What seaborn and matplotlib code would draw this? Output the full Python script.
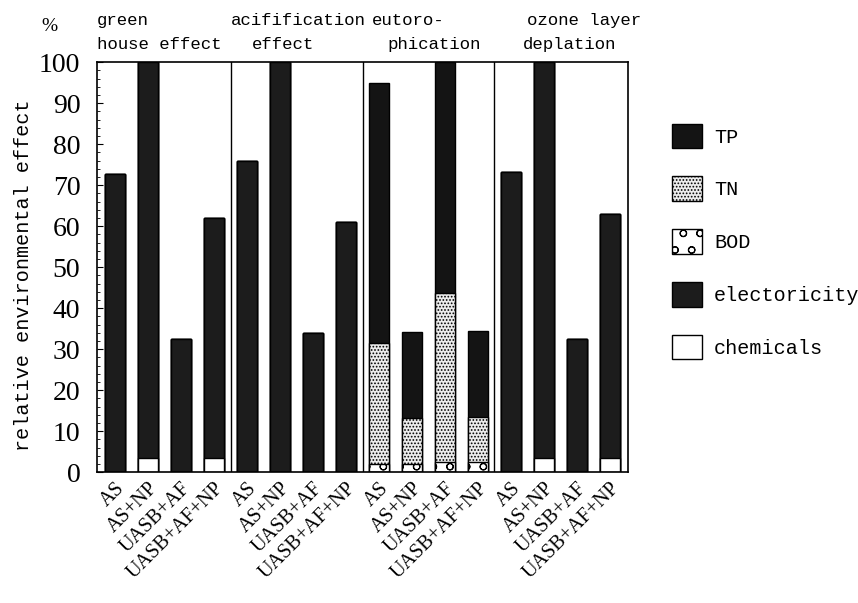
import numpy as np
import pandas as pd
import seaborn as sns
import matplotlib.pyplot as plt
from matplotlib.patches import Patch
from matplotlib.ticker import MultipleLocator

# data (% relative environmental effect)
processes = ['AS', 'AS+NP', 'UASB+AF', 'UASB+AF+NP']
chemicals = [0, 3.5, 0, 3.5, 0, 0, 0, 0, 0, 0, 0, 0, 0, 3.5, 0, 3.5]
electricity = [72.8, 96.5, 32.4, 58.5, 76, 100, 34, 61.1, 0, 0, 0, 0, 73.3, 96.5, 32.4, 59.5]
bod = [0, 0, 0, 0, 0, 0, 0, 0, 2, 2, 2.5, 2.5, 0, 0, 0, 0]
tn = [0, 0, 0, 0, 0, 0, 0, 0, 29.5, 11.2, 41.2, 11, 0, 0, 0, 0]
tp = [0, 0, 0, 0, 0, 0, 0, 0, 63.4, 20.9, 56.3, 20.9, 0, 0, 0, 0]

# group titles: (text, x position in bar units, line)
titles = [('green', -0.55, 0), ('house effect', -0.55, 1),
          ('acifification', 3.5, 0), ('effect', 4.15, 1),
          ('eutoro-', 7.78, 0), ('phication', 8.27, 1),
          ('ozone layer', 12.48, 0), ('deplation', 12.36, 1)]

layers = ['chemicals', 'electoricity', 'BOD', 'TN', 'TP']
df = pd.DataFrame({'chemicals': chemicals, 'electoricity': electricity,
                   'BOD': bod, 'TN': tn, 'TP': tp})
df['bar'] = range(len(df))
cum = df[layers].cumsum(axis=1)

styles = {
    'TP': dict(color='#141414', hatch=None),
    'TN': dict(color='#ececec', hatch='.....'),
    'BOD': dict(color='white', hatch='o'),
    'electoricity': dict(color='#1c1c1c', hatch=None),
    'chemicals': dict(color='white', hatch=None),
}

plt.rcParams['font.family'] = ['Liberation Serif', 'DejaVu Serif']
plt.rcParams['hatch.linewidth'] = 0.8
mono = 'Liberation Mono'

fig = plt.figure(figsize=(8.58, 6.03), dpi=100)
ax = fig.add_axes([0.113, 0.217, 0.619, 0.680])

# stacked bars: draw cumulative tops from the top layer down
for name in reversed(layers):
    st = styles[name]
    sns.barplot(x=df['bar'], y=cum[name], ax=ax, width=0.6, color=st['color'],
                edgecolor='black', linewidth=1, hatch=st['hatch'], saturation=1)

for xs in [3.5, 7.5, 11.5]:
    ax.axvline(xs, color='black', lw=1)

ax.set_xlim(-0.55, 15.55)
ax.set_ylim(0, 100)
ax.yaxis.set_major_locator(MultipleLocator(10))
ax.yaxis.set_minor_locator(MultipleLocator(2))
ax.tick_params(axis='y', which='major', direction='in', length=4, labelsize=20, pad=12)
ax.tick_params(axis='y', which='minor', direction='in', length=2)
ax.tick_params(axis='x', length=0, pad=5)
ax.set_xticks(range(16))
ax.set_xticklabels(processes * 4, rotation=45, ha='right', rotation_mode='anchor',
                   fontsize=14.5)
ax.set_xlabel('')
ax.set_ylabel('relative environmental effect', fontsize=14.5, family=mono, labelpad=6)
ax.yaxis.set_label_coords(-0.12, 0.48)
for s in ax.spines.values():
    s.set_linewidth(1.2)

# group titles above the plot
for txt, xp, line in titles:
    ax.text(xp, 108.3 - 5.8 * line, txt, fontsize=12.5, family=mono,
            va='bottom', ha='left')
ax.text(-0.105, 1.065, '%', transform=ax.transAxes, fontsize=14, va='bottom')

handles = [Patch(facecolor=styles[n]['color'], edgecolor='black', hatch=styles[n]['hatch'],
                 label=n) for n in reversed(layers)]
leg = fig.legend(handles=handles, loc='upper left', bbox_to_anchor=(0.762, 0.825),
                 frameon=False, labelspacing=1.4, handlelength=1.5,
                 handleheight=1.5, handletextpad=0.6,
                 prop={'family': mono, 'size': 14.5})

fig.savefig('out.png', dpi=100)
